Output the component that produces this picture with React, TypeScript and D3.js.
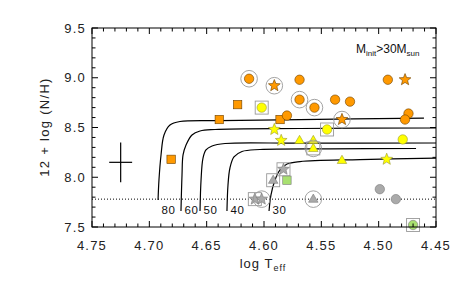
import React from "react";
import * as d3 from "d3";

// ---- data ----
type Pt = { t: number; n: number; ring?: boolean; box?: boolean };

const orangeCircles: Pt[] = [
  { t: 4.613, n: 8.99, ring: true },
  { t: 4.569, n: 8.98 },
  { t: 4.569, n: 8.78, ring: true },
  { t: 4.556, n: 8.70, ring: true },
  { t: 4.580, n: 8.62 },
  { t: 4.538, n: 8.78 },
  { t: 4.525, n: 8.76 },
  { t: 4.492, n: 8.98 },
  { t: 4.474, n: 8.64 },
  { t: 4.477, n: 8.58 },
];
const orangeStars: Pt[] = [
  { t: 4.591, n: 8.92, ring: true },
  { t: 4.477, n: 8.98 },
  { t: 4.532, n: 8.58, ring: true },
];
const orangeSquares: Pt[] = [
  { t: 4.623, n: 8.73 },
  { t: 4.639, n: 8.58 },
  { t: 4.586, n: 8.58 },
  { t: 4.681, n: 8.18 },
];
const yellowCircles: Pt[] = [
  { t: 4.602, n: 8.70, box: true },
  { t: 4.545, n: 8.48, box: true },
  { t: 4.479, n: 8.38 },
];
const yellowStars: Pt[] = [
  { t: 4.591, n: 8.48 },
  { t: 4.585, n: 8.37 },
  { t: 4.493, n: 8.18 },
];
const yellowTriangles: Pt[] = [
  { t: 4.569, n: 8.37 },
  { t: 4.557, n: 8.37 },
  { t: 4.557, n: 8.29, box: true, ring: true },
  { t: 4.532, n: 8.17 },
];
const grayStars: Pt[] = [
  { t: 4.583, n: 8.08, box: true },
  { t: 4.608, n: 7.78, box: true },
  { t: 4.602, n: 7.78, ring: true },
];
const grayTriangles: Pt[] = [
  { t: 4.592, n: 7.97, box: true },
  { t: 4.557, n: 7.78, ring: true },
];
const grayCircles: Pt[] = [
  { t: 4.499, n: 7.88 },
  { t: 4.485, n: 7.78 },
];
const greenSquares: Pt[] = [{ t: 4.580, n: 7.97 }];
const greenCircles: Pt[] = [{ t: 4.470, n: 7.52, box: true }];

const trackLabels = ["80", "60", "50", "40", "30"];
const track80: [number, number][] = [
  [4.6924, 7.771], [4.6916, 7.972], [4.6898, 8.224], [4.6872, 8.425], [4.682, 8.525],
  [4.6733, 8.56], [4.6384, 8.57], [4.5686, 8.58], [4.4605, 8.595],
];
const track60: [number, number][] = [
  [4.6724, 7.661], [4.6715, 8.023], [4.6706, 8.224], [4.668, 8.324], [4.6628, 8.425],
  [4.6558, 8.465], [4.6427, 8.48], [4.5686, 8.49], [4.45, 8.495],
];
const track50: [number, number][] = [
  [4.6558, 7.661], [4.6549, 7.972], [4.6532, 8.193], [4.6506, 8.274], [4.6453, 8.314],
  [4.634, 8.339], [4.5686, 8.342], [4.45, 8.344],
];
const track40: [number, number][] = [
  [4.6323, 7.661], [4.6314, 7.922], [4.6297, 8.093], [4.6262, 8.204], [4.6192, 8.259],
  [4.6035, 8.279], [4.5424, 8.286], [4.4674, 8.289],
];
const track30: [number, number][] = [
  [4.5956, 7.661], [4.5939, 7.822], [4.5904, 7.972], [4.586, 8.073], [4.5799, 8.133],
  [4.5686, 8.158], [4.5163, 8.178], [4.45, 8.193],
];
const tracks = [track80, track60, track50, track40, track30];

const xTickLabels = ["4.75", "4.70", "4.65", "4.60", "4.55", "4.50", "4.45"];
const yTickLabels = ["7.5", "8.0", "8.5", "9.0", "9.5"];
const nitrogenLimit = 7.78;
const errCenter = { t: 4.725, n: 8.15 };
const errSize = { dt: 0.01, dn: 0.2 };

// ---- layout ----
const W = 463, H = 284;
const L = 92, R = 436, T = 28, B = 227;
const FONT = "'Liberation Sans', Arial, Helvetica, sans-serif";

const x = d3.scaleLinear().domain([4.75, 4.45]).range([L, R]);
const y = d3.scaleLinear().domain([7.5, 9.5]).range([B, T]);

const ORANGE = "#FF9900";
const YELLOW = "#FFFF00";
const GRAY = "#AAAAAA";
const GREEN = "#A8E070";

function starPath(cx: number, cy: number, Ro: number, Ri: number) {
  const pts: string[] = [];
  for (let i = 0; i < 10; i++) {
    const a = -Math.PI / 2 + (i * Math.PI) / 5;
    const r = i % 2 === 0 ? Ro : Ri;
    pts.push(`${cx + r * Math.cos(a)},${cy + r * Math.sin(a)}`);
  }
  return "M" + pts.join("L") + "Z";
}
function triPath(cx: number, cy: number, s: number) {
  const h = (s * Math.sqrt(3)) / 2;
  return `M${cx},${cy - h * 0.62}L${cx + s / 2},${cy + h * 0.38}L${cx - s / 2},${cy + h * 0.38}Z`;
}

type Shape = "circle" | "square" | "star" | "triangle";

function Marker({ p, shape, fill, stroke }: { p: Pt; shape: Shape; fill: string; stroke: string }) {
  const cx = x(p.t), cy = y(p.n);
  const deco: JSX.Element[] = [];
  if (p.box) deco.push(<rect key="b" x={cx - 6.5} y={cy - 6.5} width={13} height={13} fill="none" stroke="#999" strokeWidth={0.9} />);
  if (p.ring) deco.push(<circle key="r" cx={cx} cy={cy} r={8.3} fill="none" stroke="#999" strokeWidth={0.9} />);
  let m: JSX.Element;
  if (shape === "circle") m = <circle cx={cx} cy={cy} r={4.7} fill={fill} stroke={stroke} strokeWidth={0.6} />;
  else if (shape === "square") m = <rect x={cx - 4.2} y={cy - 4.2} width={8.4} height={8.4} fill={fill} stroke={stroke} strokeWidth={0.6} />;
  else if (shape === "star") m = <path d={starPath(cx, cy, 6.2, 2.7)} fill={fill} stroke={stroke} strokeWidth={0.6} />;
  else m = <path d={triPath(cx, cy, 9.5)} fill={fill} stroke={stroke} strokeWidth={0.6} />;
  return <g>{deco}{m}</g>;
}

export default function App() {
  const line = d3.line<[number, number]>().x((d) => x(d[0])).y((d) => y(d[1])).curve(d3.curveCatmullRom.alpha(0.5));
  const xMinor = d3.range(0, 31).map((i) => 4.45 + i * 0.01);
  const yMinor = d3.range(0, 21).map((i) => 7.5 + i * 0.1);
  const isMajorX = (v: number) => Math.abs(v * 20 - Math.round(v * 20)) < 1e-6;
  const isMajorY = (v: number) => Math.abs(v * 2 - Math.round(v * 2)) < 1e-6;

  const groups: [Pt[], Shape, string, string][] = [
    [grayCircles, "circle", GRAY, "#7a7a7a"],
    [grayTriangles, "triangle", GRAY, "#7a7a7a"],
    [grayStars, "star", GRAY, "#7a7a7a"],
    [greenSquares, "square", GREEN, "#7a7a7a"],
    [greenCircles, "circle", GREEN, "#7a7a7a"],
    [yellowTriangles, "triangle", YELLOW, "#9a9a30"],
    [yellowStars, "star", YELLOW, "#9a9a30"],
    [yellowCircles, "circle", YELLOW, "#9a9a30"],
    [orangeSquares, "square", ORANGE, "#6b4000"],
    [orangeCircles, "circle", ORANGE, "#6b4000"],
    [orangeStars, "star", ORANGE, "#6b4000"],
  ];

  return (
    <svg width={W} height={H} style={{ position: "absolute", left: 0, top: 0, background: "#fff" }} fontFamily={FONT}>
      {/* nitrogen baseline */}
      <line x1={L} x2={R} y1={y(nitrogenLimit)} y2={y(nitrogenLimit)} stroke="#000" strokeWidth={1} strokeDasharray="1,2" />
      {/* tracks */}
      {tracks.map((tr, i) => (
        <path key={i} d={line(tr) || ""} fill="none" stroke="#000" strokeWidth={1.2} />
      ))}
      {tracks.map((tr, i) => (
        <text key={"l" + i} x={x(tr[0][0]) + 3.5} y={214} fontSize={11.5} letterSpacing={0.6} fill="#111">
          {trackLabels[i]}
        </text>
      ))}
      {/* error bar */}
      <g stroke="#000" strokeWidth={1.2}>
        <line x1={x(errCenter.t - errSize.dt)} x2={x(errCenter.t + errSize.dt)} y1={y(errCenter.n)} y2={y(errCenter.n)} />
        <line x1={x(errCenter.t)} x2={x(errCenter.t)} y1={y(errCenter.n - errSize.dn)} y2={y(errCenter.n + errSize.dn)} />
      </g>
      {/* markers */}
      {groups.map(([pts, shape, fill, stroke], gi) =>
        pts.map((p, i) => <Marker key={gi + "-" + i} p={p} shape={shape} fill={fill} stroke={stroke} />)
      )}
      {/* frame */}
      <rect x={L} y={T} width={R - L} height={B - T} fill="none" stroke="#000" strokeWidth={1} />
      {xMinor.map((v, i) => {
        const len = isMajorX(v) ? 6 : 3.5;
        const px = x(v);
        return (
          <g key={"xt" + i} stroke="#000" strokeWidth={1}>
            <line x1={px} x2={px} y1={B} y2={B - len} />
            <line x1={px} x2={px} y1={T} y2={T + len} />
          </g>
        );
      })}
      {yMinor.map((v, i) => {
        const len = isMajorY(v) ? 6 : 3.5;
        const py = y(v);
        return (
          <g key={"yt" + i} stroke="#000" strokeWidth={1}>
            <line x1={L} x2={L + len} y1={py} y2={py} />
            <line x1={R} x2={R - len} y1={py} y2={py} />
          </g>
        );
      })}
      {xTickLabels.map((s) => (
        <text key={s} x={x(+s)} y={250} textAnchor="middle" fontSize={13} letterSpacing={1.2} fill="#222">
          {s}
        </text>
      ))}
      {yTickLabels.map((s) => (
        <text key={s} x={86} y={y(+s) + 4.5} textAnchor="end" fontSize={13} letterSpacing={1.2} fill="#222">
          {s}
        </text>
      ))}
      <text x={263} y={268} textAnchor="middle" fontSize={13} letterSpacing={1} fill="#222">
        log T<tspan fontSize={9} dy={3}>eff</tspan>
      </text>
      <text transform="translate(49,127) rotate(-90)" textAnchor="middle" fontSize={13} letterSpacing={1.3} fill="#222">
        12 + log (N/H)
      </text>
      <text x={356} y={53} fontSize={12} fill="#111">
        M<tspan fontSize={8} dy={3}>init</tspan>
        <tspan dy={-3}>&gt;30M</tspan>
        <tspan fontSize={8} dy={3}>sun</tspan>
      </text>
    </svg>
  );
}
